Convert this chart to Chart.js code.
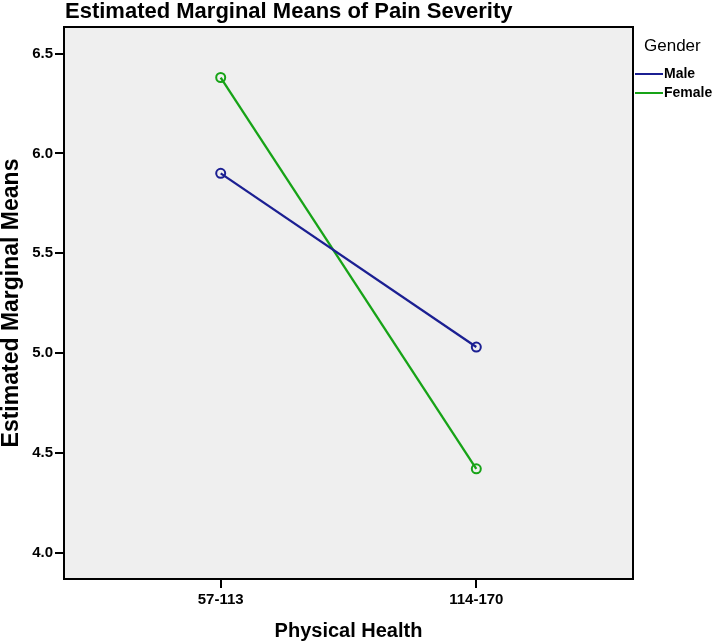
<!DOCTYPE html>
<html>
<head>
<meta charset="utf-8">
<script src="https://cdn.jsdelivr.net/npm/chart.js@4"></script>
<style>
    html, body { margin: 0; padding: 0; background: #fff; }
    canvas { display: block; }
</style>
</head>
<body>
<canvas id="means_chart" width="714" height="644"></canvas>
<script>
const categories = ['57-113', '114-170'];
const maleMeans = [5.90, 5.03];
const femaleMeans = [6.38, 4.42];
const yTicks = [4.0, 4.5, 5.0, 5.5, 6.0, 6.5];
const seriesNames = ['Male', 'Female'];

const fontFamily = 'Arial, "Liberation Sans", sans-serif';

// fond gris + cadre, titre et légende à la SPSS
const spssDecor = {
    id: 'spssDecor',
    beforeDatasetsDraw(chart) {
        let { ctx, chartArea } = chart;
        ctx.save();
        ctx.fillStyle = '#efefef';
        ctx.fillRect(chartArea.left, chartArea.top, chartArea.right - chartArea.left, chartArea.bottom - chartArea.top);
        ctx.restore();
    },
    afterDraw(chart) {
        let { ctx, chartArea } = chart;
        ctx.save();
        ctx.strokeStyle = '#000';
        ctx.lineWidth = 2;
        ctx.strokeRect(chartArea.left, chartArea.top, chartArea.right - chartArea.left, chartArea.bottom - chartArea.top);

        ctx.fillStyle = '#000';
        ctx.textBaseline = 'alphabetic';
        ctx.textAlign = 'left';
        ctx.font = `bold 22px ${fontFamily}`;
        ctx.fillText('Estimated Marginal Means of Pain Severity', 65, 18);

        ctx.textBaseline = 'middle';
        ctx.font = `17px ${fontFamily}`;
        ctx.fillText('Gender', 644, 46);

        ctx.font = `bold 14px ${fontFamily}`;
        chart.data.datasets.forEach((ds, i) => {
            let y = 74 + i * 19;
            ctx.strokeStyle = ds.borderColor;
            ctx.lineWidth = 2;
            ctx.beginPath();
            ctx.moveTo(635, y);
            ctx.lineTo(663, y);
            ctx.stroke();
            ctx.fillStyle = '#000';
            ctx.fillText(ds.label, 664, y);
        });
        ctx.restore();
    }
};

function toPoints(values) {
    return values.map((v, i) => ({ x: i, y: v }));
}

let canvas = document.querySelector('#means_chart');
new Chart(canvas, {
    type: 'line',
    data: {
        datasets: [{
            label: seriesNames[0],
            data: toPoints(maleMeans),
            borderColor: '#1b1f92',
            borderWidth: 2.3,
            pointRadius: 4.5,
            pointBorderWidth: 2,
            pointBackgroundColor: 'rgba(0,0,0,0)',
            pointBorderColor: '#1b1f92'
        }, {
            label: seriesNames[1],
            data: toPoints(femaleMeans),
            borderColor: '#17a317',
            borderWidth: 2.3,
            pointRadius: 4.5,
            pointBorderWidth: 2,
            pointBackgroundColor: 'rgba(0,0,0,0)',
            pointBorderColor: '#17a317'
        }]
    },
    options: {
        responsive: false,
        devicePixelRatio: 1,
        animation: false,
        layout: {
            padding: { top: 27, right: 81, left: 0, bottom: 0 }
        },
        plugins: {
            legend: { display: false },
            title: { display: false },
            tooltip: { enabled: false }
        },
        scales: {
            x: {
                type: 'linear',
                min: -0.613,
                max: 1.613,
                afterBuildTicks: (scale) => {
                    scale.ticks = categories.map((c, i) => ({ value: i }));
                },
                afterFit: (scale) => {
                    scale.height = 65;
                },
                ticks: {
                    callback: (value) => categories[value],
                    color: '#000',
                    padding: 3,
                    font: { family: fontFamily, size: 15, weight: 'bold' }
                },
                grid: {
                    drawOnChartArea: false,
                    drawTicks: true,
                    tickLength: 9,
                    color: '#000',
                    lineWidth: 2
                },
                border: { display: false },
                title: {
                    display: true,
                    text: 'Physical Health',
                    color: '#000',
                    padding: { top: 3, bottom: 3 },
                    font: { family: fontFamily, size: 20, weight: 'bold', lineHeight: 1 }
                }
            },
            y: {
                min: 3.868,
                max: 6.633,
                afterBuildTicks: (scale) => {
                    scale.ticks = yTicks.map((v) => ({ value: v }));
                },
                afterFit: (scale) => {
                    scale.width = 64;
                },
                ticks: {
                    callback: (value) => value.toFixed(1),
                    color: '#000',
                    padding: 2,
                    font: { family: fontFamily, size: 15, weight: 'bold' }
                },
                grid: {
                    drawOnChartArea: false,
                    drawTicks: true,
                    tickLength: 9,
                    color: '#000',
                    lineWidth: 2
                },
                border: { display: false },
                title: {
                    display: true,
                    text: 'Estimated Marginal Means',
                    color: '#000',
                    padding: { top: 0, bottom: 0 },
                    font: { family: fontFamily, size: 23, weight: 'bold', lineHeight: 1 }
                }
            }
        }
    },
    plugins: [spssDecor]
});
</script>
</body>
</html>
